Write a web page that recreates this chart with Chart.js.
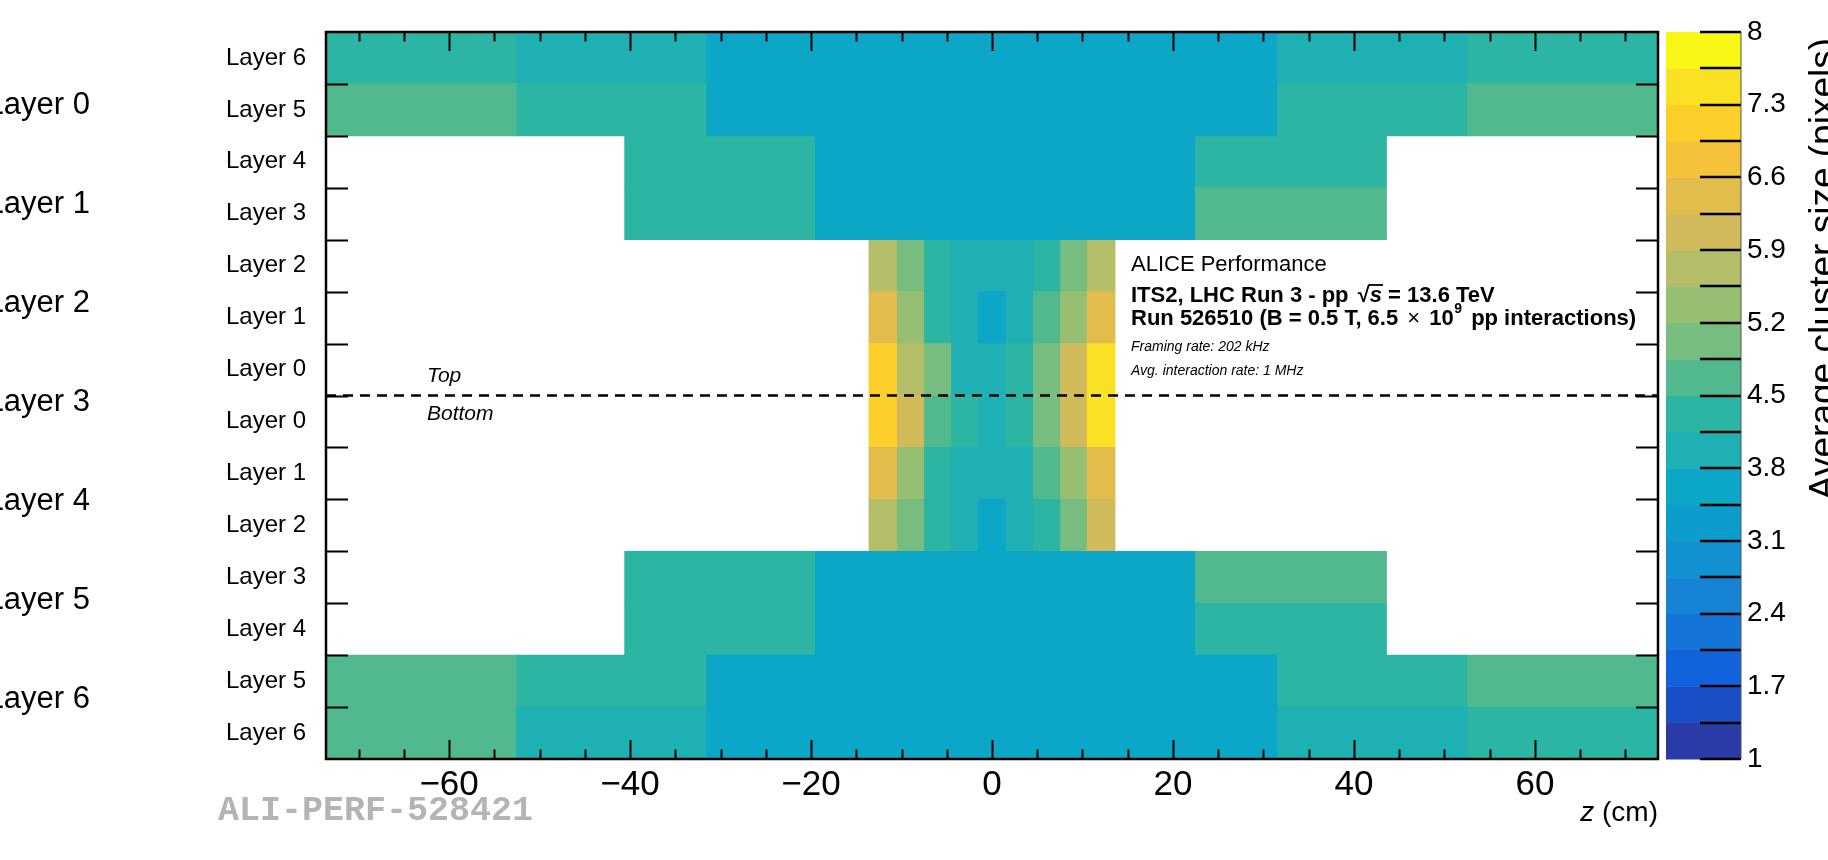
<!DOCTYPE html>
<html>
<head>
<meta charset="utf-8">
<title>ITS2 average cluster size vs z</title>
<script src="https://cdn.jsdelivr.net/npm/chart.js@4.4.0/dist/chart.umd.min.js"></script>
<style>
  html, body { margin: 0; padding: 0; background: #fff; }
  #wrap { width: 1828px; height: 860px; position: relative; }
</style>
</head>
<body>
<div id="wrap"><canvas id="map" width="1828" height="860"></canvas></div>
<script>
// ---------------- Data ----------------
const rowLabels = ['Layer 6', 'Layer 5', 'Layer 4', 'Layer 3', 'Layer 2', 'Layer 1', 'Layer 0',
                   'Layer 0', 'Layer 1', 'Layer 2', 'Layer 3', 'Layer 4', 'Layer 5', 'Layer 6'];
// which set of z bins each row uses (top half first, then bottom half)
const rowBins = ['outer', 'outer', 'middle', 'middle', 'inner', 'inner', 'inner',
                 'inner', 'inner', 'inner', 'middle', 'middle', 'outer', 'outer'];

// z bin edges (cm)
const outerEdges = [-73.6, -52.6, -31.6, 31.5, 52.5, 73.6];
const middleEdges = [-40.6, -19.6, 22.4, 43.6];
const innerEdges = [-13.6, -10.55, -7.55, -4.55, -1.55, 1.5, 4.5, 7.5, 10.45, 13.6];

// average cluster size (pixels), one list per row, in row order
const outerValues = [
  [4.32, 3.98, 3.63, 3.97, 4.33],   // top L6
  [4.66, 4.31, 3.62, 4.29, 4.70],   // top L5
  [4.70, 4.30, 3.62, 4.31, 4.67],   // bottom L5
  [4.72, 3.99, 3.64, 4.01, 4.33]    // bottom L6
];
const middleValues = [
  [4.30, 3.64, 4.28],               // top L4
  [4.27, 3.65, 4.72],               // top L3
  [4.28, 3.64, 4.71],               // bottom L3
  [4.31, 3.63, 4.30]                // bottom L4
];
const innerValues = [
  [5.70, 5.02, 4.31, 3.96, 3.93, 3.95, 4.29, 5.05, 5.73],   // top L2
  [6.43, 5.38, 4.33, 4.02, 3.66, 3.99, 4.68, 5.40, 6.45],   // top L1
  [7.12, 5.74, 5.06, 3.98, 4.03, 4.34, 5.01, 6.08, 7.50],   // top L0
  [7.15, 6.05, 4.71, 4.30, 4.01, 4.33, 5.03, 6.10, 7.52],   // bottom L0
  [6.41, 5.36, 4.32, 3.97, 4.00, 4.02, 4.69, 5.37, 6.44],   // bottom L1
  [5.71, 5.04, 4.30, 3.98, 3.61, 3.99, 4.31, 5.02, 6.07]    // bottom L2
];

const xTicks = [-60, -40, -20, 0, 20, 40, 60];
const cbTicks = [1, 1.7, 2.4, 3.1, 3.8, 4.5, 5.2, 5.9, 6.6, 7.3, 8];
const zMin = 1, zMax = 8, nBands = 20;

// colour bands of the z palette, low to high
const palette = ['#2a3aa6', '#1a4fc8', '#1063dc', '#1474d8', '#1683d4', '#1291d0', '#0d9dcc',
                 '#0ca6c7', '#1eb0b2', '#2db5a3', '#52b98f', '#76bd7f', '#97bf72', '#b4bd67',
                 '#d1ba5a', '#e3bd4c', '#f5c23a', '#fccf2a', '#fae124', '#f8f716'];

function cellColor(v) {
  let k = Math.floor((v - zMin) / (zMax - zMin) * nBands);
  k = Math.max(0, Math.min(nBands - 1, k));
  return palette[k];
}

// ---------------- Build datasets (one per z segment of each bin set) ----------------
const binSets = {
  outer: { edges: outerEdges, values: outerValues },
  middle: { edges: middleEdges, values: middleValues },
  inner: { edges: innerEdges, values: innerValues }
};

// row -> list of values
const rowValues = [];
const used = { outer: 0, middle: 0, inner: 0 };
rowBins.forEach(b => { rowValues.push(binSets[b].values[used[b]++]); });

const datasets = [];
Object.keys(binSets).forEach(name => {
  const edges = binSets[name].edges;
  for (let j = 0; j < edges.length - 1; j++) {
    const data = [], colors = [];
    rowLabels.forEach((lab, i) => {
      if (rowBins[i] === name) {
        data.push([edges[j], edges[j + 1]]);
        colors.push(cellColor(rowValues[i][j]));
      } else {
        data.push(null);
        colors.push('rgba(0,0,0,0)');
      }
    });
    datasets.push({
      label: name + ' ' + j,
      data: data,
      backgroundColor: colors,
      borderWidth: 0,
      grouped: false,
      barPercentage: 1,
      categoryPercentage: 1
    });
  }
});

// ---------------- Decorations drawn the ROOT way ----------------
const FONT = '"Liberation Sans", Arial, sans-serif';

function put(ctx, text, x, y) {
  ctx.fillText(text, x, y);
  return x + ctx.measureText(text).width;
}

// fixed scale boxes, no extra label padding
function fixBox(w, h) {
  return s => {
    if (w !== null) s.width = w;
    if (h !== null) s.height = h;
    s.paddingTop = 0; s.paddingBottom = 0;
    s.paddingLeft = 0; s.paddingRight = 0;
  };
}

const rootDecor = {
  id: 'rootDecor',
  afterDatasetsDraw(chart) {
    const { ctx, chartArea: a, scales } = chart;
    const x = scales.x, y = scales.y, cb = scales.cb;
    ctx.save();
    ctx.strokeStyle = '#000';
    ctx.fillStyle = '#000';

    // top / bottom divider
    const yMid = (y.getPixelForValue(6) + y.getPixelForValue(7)) / 2;
    ctx.setLineDash([10, 7]);
    ctx.lineWidth = 2.5;
    ctx.beginPath();
    ctx.moveTo(a.left, yMid);
    ctx.lineTo(a.right, yMid);
    ctx.stroke();
    ctx.setLineDash([]);

    // frame
    ctx.lineWidth = 2.5;
    ctx.strokeRect(a.left, a.top, a.right - a.left, a.bottom - a.top);

    // x ticks, inward, bottom and top
    ctx.lineWidth = 2;
    ctx.beginPath();
    for (let v = Math.ceil(x.min / 5) * 5; v <= x.max; v += 5) {
      const px = Math.round(x.getPixelForValue(v)) + 0.5;
      const len = (v % 20 === 0) ? 19 : 9.5;
      ctx.moveTo(px, a.bottom); ctx.lineTo(px, a.bottom - len);
      ctx.moveTo(px, a.top); ctx.lineTo(px, a.top + len);
    }
    // y ticks on row boundaries, inward, left and right
    for (let i = 1; i < rowLabels.length; i++) {
      const py = Math.round((y.getPixelForValue(i - 1) + y.getPixelForValue(i)) / 2) + 0.5;
      ctx.moveTo(a.left, py); ctx.lineTo(a.left + 22, py);
      ctx.moveTo(a.right, py); ctx.lineTo(a.right - 22, py);
    }
    ctx.stroke();

    // colour bar
    const cbL = a.right + 8, cbR = a.right + 83;
    const step = (zMax - zMin) / nBands;
    for (let k = 0; k < nBands; k++) {
      const y0 = cb.getPixelForValue(zMin + k * step);
      const y1 = cb.getPixelForValue(zMin + (k + 1) * step);
      ctx.fillStyle = palette[k];
      ctx.fillRect(cbL, y1, cbR - cbL, y0 - y1 + 0.5);
    }
    ctx.strokeStyle = '#000';
    ctx.lineWidth = 2.5;
    ctx.beginPath();
    for (let k = 0; k <= nBands; k++) {
      const py = Math.round(cb.getPixelForValue(zMin + k * step));
      ctx.moveTo(cbR - 41, py); ctx.lineTo(cbR, py);
    }
    ctx.stroke();
    ctx.lineWidth = 1;
    ctx.strokeStyle = '#555';
    ctx.beginPath();
    ctx.moveTo(cbR, a.top); ctx.lineTo(cbR, a.bottom);
    ctx.stroke();

    // colour bar title (rotated, aligned to the top)
    ctx.fillStyle = '#000';
    ctx.save();
    ctx.translate(1835, a.top + 6);
    ctx.rotate(-Math.PI / 2);
    ctx.textAlign = 'right';
    ctx.textBaseline = 'alphabetic';
    ctx.font = '37px ' + FONT;
    ctx.fillText('Average cluster size (pixels)', 0, 0);
    ctx.restore();

    ctx.textBaseline = 'alphabetic';

    // x axis title
    ctx.textAlign = 'right';
    ctx.font = '28px ' + FONT;
    ctx.fillText('(cm)', a.right, 821);
    const wcm = ctx.measureText('(cm)').width;
    ctx.font = 'italic 28px ' + FONT;
    ctx.fillText('z ', a.right - wcm, 821);

    // Top / Bottom
    ctx.textAlign = 'left';
    ctx.font = 'italic 21px ' + FONT;
    ctx.fillText('Top', 427, yMid - 14);
    ctx.fillText('Bottom', 427, yMid + 24);

    // large layer labels on the far left
    ctx.textAlign = 'right';
    ctx.font = '31px ' + FONT;
    for (let i = 0; i < 7; i++) {
      ctx.fillText('Layer ' + i, 90, 113.5 + i * 99.1);
    }

    // watermark
    ctx.textAlign = 'left';
    ctx.fillStyle = '#b4b4b4';
    ctx.font = 'bold 35px "Liberation Mono", "Courier New", monospace';
    ctx.fillText('ALI-PERF-528421', 218, 820);

    // annotation block
    ctx.fillStyle = '#000';
    const tx = 1131;
    ctx.font = '22px ' + FONT;
    ctx.fillText('ALICE Performance', tx, 271);

    let cx = tx;
    ctx.font = 'bold 22px ' + FONT;
    cx = put(ctx, 'ITS2, LHC Run 3 - pp ', cx, 302);
    cx = put(ctx, '\u221A', cx + 3, 302);
    const sx = cx;
    ctx.font = 'italic bold 22px ' + FONT;
    cx = put(ctx, 's', cx, 302);
    ctx.lineWidth = 1.8;
    ctx.strokeStyle = '#000';
    ctx.beginPath();
    ctx.moveTo(sx - 1, 285); ctx.lineTo(cx + 1, 285);
    ctx.stroke();
    ctx.font = 'bold 22px ' + FONT;
    cx = put(ctx, ' = 13.6 TeV', cx, 302);

    cx = tx;
    cx = put(ctx, 'Run 526510 (B = 0.5 T, 6.5 ', cx, 325);
    ctx.font = '22px ' + FONT;
    cx = put(ctx, '\u00D7', cx + 3, 325);
    ctx.font = 'bold 22px ' + FONT;
    cx = put(ctx, ' 10', cx + 3, 325);
    ctx.font = 'bold 14px ' + FONT;
    cx = put(ctx, '9', cx + 0.5, 313);
    ctx.font = 'bold 22px ' + FONT;
    cx = put(ctx, ' pp interactions)', cx + 3, 325);

    ctx.font = 'italic 14px ' + FONT;
    ctx.fillText('Framing rate: 202 kHz', tx, 351);
    ctx.fillText('Avg. interaction rate: 1 MHz', tx, 375);

    ctx.restore();
  }
};

Chart.defaults.font.family = FONT;
Chart.defaults.color = '#000';

new Chart(document.getElementById('map').getContext('2d'), {
  type: 'bar',
  data: { labels: rowLabels, datasets: datasets },
  options: {
    indexAxis: 'y',
    responsive: false,
    animation: false,
    layout: { padding: { left: 0, top: 32, right: 0, bottom: 0 } },
    plugins: { legend: { display: false }, tooltip: { enabled: false } },
    scales: {
      x: {
        type: 'linear',
        min: -73.6,
        max: 73.6,
        afterFit: fixBox(null, 101),
        afterBuildTicks: s => { s.ticks = xTicks.map(v => ({ value: v })); },
        grid: { display: false, drawTicks: false },
        border: { display: false },
        ticks: {
          autoSkip: false,
          maxRotation: 0,
          padding: 5,
          color: '#000',
          font: { size: 35 },
          callback: v => (v < 0 ? '\u2212' + Math.abs(v) : String(v))
        }
      },
      y: {
        type: 'category',
        offset: true,
        afterFit: fixBox(326, null),
        grid: { display: false, drawTicks: false },
        border: { display: false },
        ticks: { autoSkip: false, padding: 20, color: '#000', font: { size: 24 } }
      },
      cb: {
        type: 'linear',
        axis: 'y',
        position: 'right',
        offset: false,
        min: zMin,
        max: zMax,
        afterFit: fixBox(170, null),
        afterBuildTicks: s => { s.ticks = cbTicks.map(v => ({ value: v })); },
        grid: { display: false, drawTicks: false, offset: false },
        border: { display: false },
        ticks: {
          autoSkip: false,
          padding: 89,
          color: '#000',
          font: { size: 28 },
          callback: v => String(v)
        }
      }
    }
  },
  plugins: [rootDecor]
});
</script>
</body>
</html>
